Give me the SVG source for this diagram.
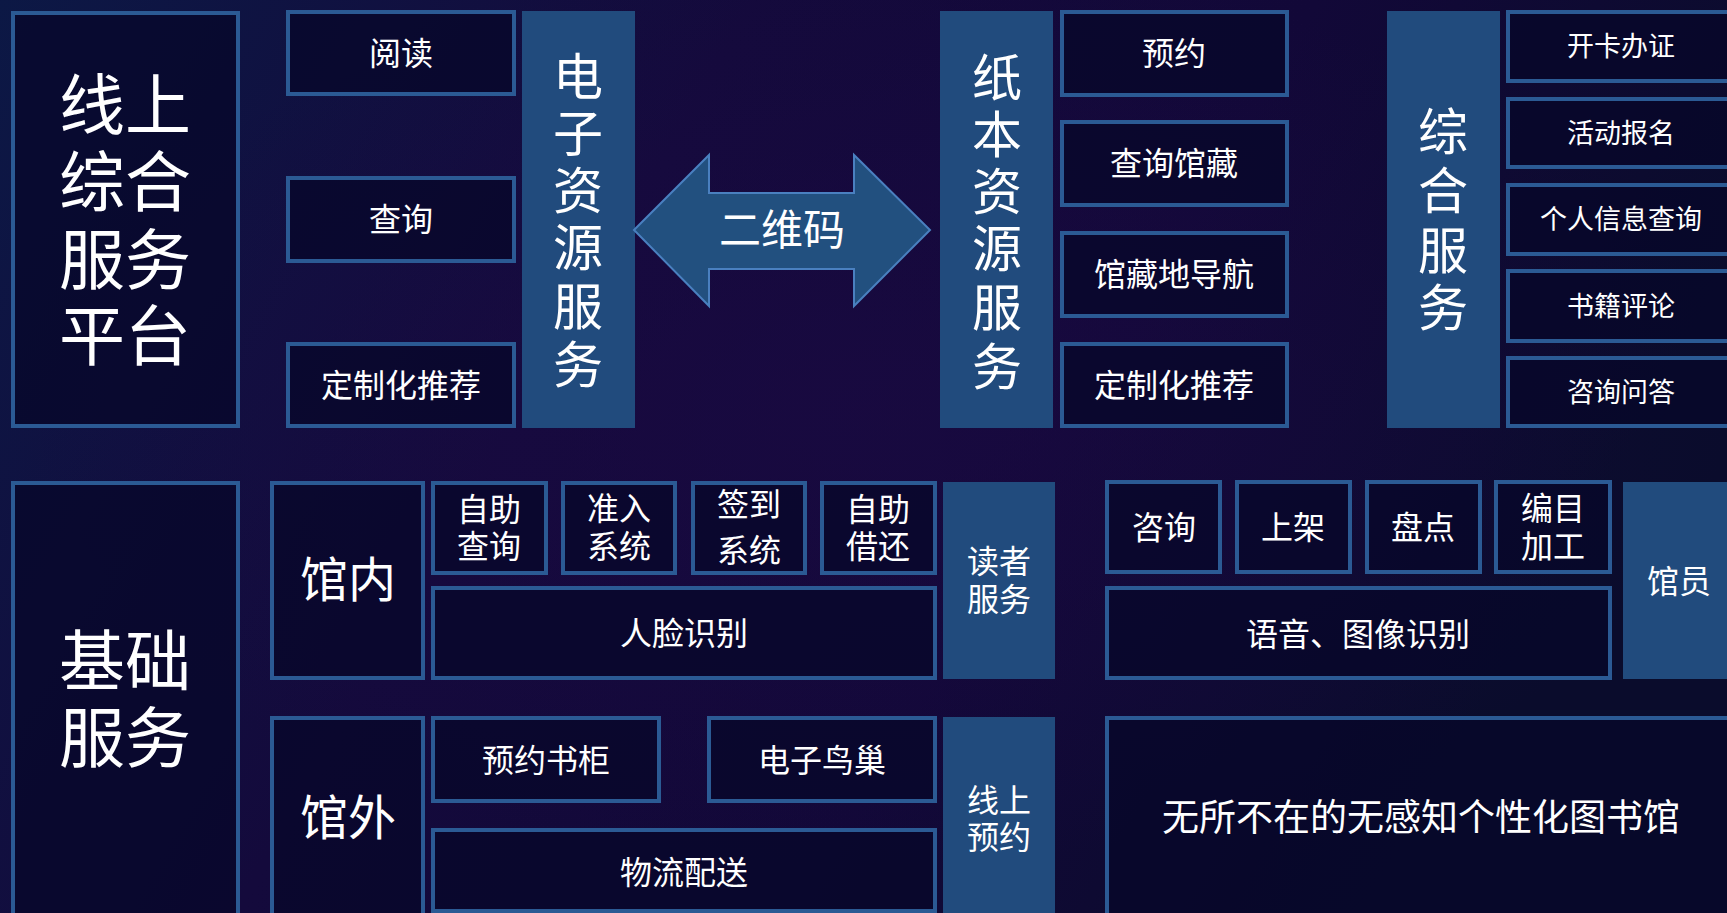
<svg xmlns="http://www.w3.org/2000/svg" width="1727" height="913" viewBox="0 0 1727 913">
<defs>
<linearGradient id="bg" x1="0" y1="0" x2="1" y2="0.3">
<stop offset="0" stop-color="#0c1845"/>
<stop offset="0.4" stop-color="#140a3c"/>
<stop offset="0.7" stop-color="#120838"/>
<stop offset="1" stop-color="#0a0c2c"/>
</linearGradient>
<radialGradient id="glow" cx="0.5" cy="0.45" r="0.5">
<stop offset="0" stop-color="#1c0a44" stop-opacity="0.6"/>
<stop offset="1" stop-color="#1c0a44" stop-opacity="0"/>
</radialGradient>
</defs>
<style>
.box{fill:#07072a;fill-opacity:0.75;stroke:#2b5a94;stroke-width:4}
.fill{fill:#214b7d;stroke:none}
.t{fill:#ffffff;font-family:"Noto Sans CJK SC","Noto Sans",sans-serif;text-anchor:middle}
.s27{font-size:27px}
.s32{font-size:32px}
.s37{font-size:37px}
.s42{font-size:42px}
.s48{font-size:48px}
.s50{font-size:50px}
.s66{font-size:66px}
</style>
<rect x="0" y="0" width="1727" height="913" fill="url(#bg)"/>
<rect x="0" y="0" width="1727" height="913" fill="url(#glow)"/>

<g id="online-platform">
<rect class="box" x="13" y="13" width="225" height="413"/>
<text class="t s66"><tspan x="125" y="129">线上</tspan><tspan x="125" y="206">综合</tspan><tspan x="125" y="284">服务</tspan><tspan x="125" y="360">平台</tspan></text>
</g>

<g id="read"><rect class="box" x="288" y="12" width="226" height="82"/><text class="t s32" x="401" y="65">阅读</text></g>
<g id="query"><rect class="box" x="288" y="178" width="226" height="83"/><text class="t s32" x="401" y="231">查询</text></g>
<g id="recommend1"><rect class="box" x="288" y="344" width="226" height="82"/><text class="t s32" x="401" y="397">定制化推荐</text></g>

<g id="e-resource">
<rect class="fill" x="522" y="11" width="113" height="417"/>
<text class="t s50"><tspan x="578" y="95">电</tspan><tspan x="578" y="152">子</tspan><tspan x="578" y="209">资</tspan><tspan x="578" y="266">源</tspan><tspan x="578" y="325">服</tspan><tspan x="578" y="383">务</tspan></text>
</g>

<g id="connectors">
<polygon points="634,230 709,155 709,193 854,193 854,155 930,230 854,306 854,269 709,269 709,306" fill="#22507f" stroke="#4a80c0" stroke-width="2" stroke-linejoin="miter"/>
<text class="t s42" x="782" y="245">二维码</text>
</g>

<g id="paper-resource">
<rect class="fill" x="940" y="11" width="113" height="417"/>
<text class="t s50"><tspan x="997" y="96">纸</tspan><tspan x="997" y="153">本</tspan><tspan x="997" y="210">资</tspan><tspan x="997" y="267">源</tspan><tspan x="997" y="326">服</tspan><tspan x="997" y="385">务</tspan></text>
</g>

<g id="reserve"><rect class="box" x="1062" y="12" width="225" height="83"/><text class="t s32" x="1174" y="65">预约</text></g>
<g id="query-collection"><rect class="box" x="1062" y="122" width="225" height="83"/><text class="t s32" x="1174" y="175">查询馆藏</text></g>
<g id="navigation"><rect class="box" x="1062" y="233" width="225" height="83"/><text class="t s32" x="1174" y="286">馆藏地导航</text></g>
<g id="recommend2"><rect class="box" x="1062" y="344" width="225" height="82"/><text class="t s32" x="1174" y="397">定制化推荐</text></g>

<g id="general-service">
<rect class="fill" x="1387" y="11" width="113" height="417"/>
<text class="t s50"><tspan x="1443" y="150">综</tspan><tspan x="1443" y="209">合</tspan><tspan x="1443" y="269">服</tspan><tspan x="1443" y="326">务</tspan></text>
</g>

<g id="card"><rect class="box" x="1508" y="12" width="230" height="69"/><text class="t s27" x="1621" y="56">开卡办证</text></g>
<g id="activity"><rect class="box" x="1508" y="99" width="230" height="68"/><text class="t s27" x="1621" y="143">活动报名</text></g>
<g id="personal"><rect class="box" x="1508" y="185" width="230" height="69"/><text class="t s27" x="1621" y="229">个人信息查询</text></g>
<g id="review"><rect class="box" x="1508" y="271" width="230" height="70"/><text class="t s27" x="1621" y="316">书籍评论</text></g>
<g id="consult-qa"><rect class="box" x="1508" y="358" width="230" height="68"/><text class="t s27" x="1621" y="402">咨询问答</text></g>

<g id="basic-service">
<rect class="box" x="13" y="483" width="225" height="440"/>
<text class="t s66"><tspan x="125" y="685">基础</tspan><tspan x="125" y="762">服务</tspan></text>
</g>

<g id="inside">
<rect class="box" x="272" y="483" width="151" height="195"/>
<text class="t s48" x="348" y="597">馆内</text>
</g>
<g id="self-query"><rect class="box" x="433" y="483" width="113" height="90"/><text class="t s32"><tspan x="489" y="521">自助</tspan><tspan x="489" y="558">查询</tspan></text></g>
<g id="access"><rect class="box" x="563" y="483" width="112" height="90"/><text class="t s32"><tspan x="619" y="520">准入</tspan><tspan x="619" y="558">系统</tspan></text></g>
<g id="signin"><rect class="box" x="693" y="483" width="112" height="90"/><text class="t s32"><tspan x="749" y="516">签到</tspan><tspan x="749" y="562">系统</tspan></text></g>
<g id="self-borrow"><rect class="box" x="822" y="483" width="113" height="90"/><text class="t s32"><tspan x="878" y="521">自助</tspan><tspan x="878" y="558">借还</tspan></text></g>
<g id="face"><rect class="box" x="433" y="588" width="502" height="90"/><text class="t s32" x="684" y="645">人脸识别</text></g>
<g id="reader-service">
<rect class="fill" x="943" y="482" width="112" height="197"/>
<text class="t s32"><tspan x="999" y="573">读者</tspan><tspan x="999" y="611">服务</tspan></text>
</g>

<g id="outside">
<rect class="box" x="272" y="718" width="151" height="205"/>
<text class="t s48" x="348" y="835">馆外</text>
</g>
<g id="locker"><rect class="box" x="433" y="718" width="226" height="83"/><text class="t s32" x="546" y="772">预约书柜</text></g>
<g id="nest"><rect class="box" x="709" y="718" width="226" height="83"/><text class="t s32" x="822" y="772">电子鸟巢</text></g>
<g id="logistics"><rect class="box" x="433" y="830" width="502" height="81"/><text class="t s32" x="684" y="884">物流配送</text></g>
<g id="online-reserve">
<rect class="fill" x="943" y="717" width="112" height="200"/>
<text class="t s32"><tspan x="999" y="812">线上</tspan><tspan x="999" y="849">预约</tspan></text>
</g>

<g id="consult"><rect class="box" x="1107" y="482" width="113" height="90"/><text class="t s32" x="1164" y="539">咨询</text></g>
<g id="shelve"><rect class="box" x="1237" y="482" width="113" height="90"/><text class="t s32" x="1293" y="539">上架</text></g>
<g id="inventory"><rect class="box" x="1367" y="482" width="113" height="90"/><text class="t s32" x="1423" y="539">盘点</text></g>
<g id="catalog"><rect class="box" x="1496" y="482" width="114" height="90"/><text class="t s32"><tspan x="1553" y="520">编目</tspan><tspan x="1553" y="558">加工</tspan></text></g>
<g id="voice-image"><rect class="box" x="1107" y="588" width="503" height="90"/><text class="t s32" x="1358" y="646">语音、图像识别</text></g>
<g id="librarian">
<rect class="fill" x="1623" y="482" width="117" height="197"/>
<text class="t s32" x="1679" y="593">馆员</text>
</g>
<g id="ubiquitous"><rect class="box" x="1107" y="718" width="631" height="205"/><text class="t s37" x="1421" y="831">无所不在的无感知个性化图书馆</text></g>
</svg>
